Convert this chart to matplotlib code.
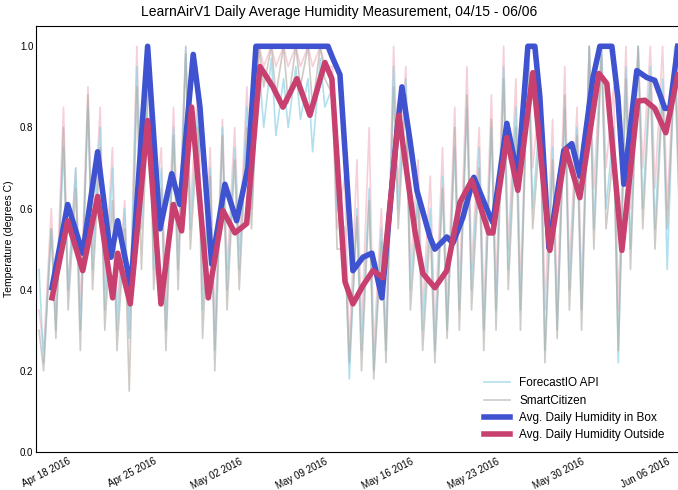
import numpy as np
import pandas as pd
import matplotlib
matplotlib.use("Agg")
import matplotlib.pyplot as plt
import matplotlib.dates as mdates

plt.rcParams["font.family"] = ["Liberation Sans", "DejaVu Sans"]

start = pd.Timestamp("2016-04-15")

# smoothed daily averages (day offset from Apr 15, humidity)
box_days = [1.31, 2.59, 3.82, 5.04, 6.13, 6.68, 7.77, 9.13, 10.14, 11.10, 11.77, 12.86,
            13.41, 14.37, 15.45, 16.41, 17.33, 17.99, 18.15, 23.88, 24.28, 24.86, 25.92,
            26.74, 27.47, 28.29, 29.52, 29.93, 30.58, 31.15, 32.22, 32.62, 33.28, 33.60,
            34.10, 34.91, 35.81, 37.04, 37.37, 38.51, 39.41, 40.23, 40.80, 41.21, 41.95,
            43.17, 43.82, 44.48, 45.54, 46.12, 47.10, 47.59, 48.08, 49.14, 49.96, 50.61,
            51.43, 51.84, 52.49]
box_hum = [0.405, 0.61, 0.49, 0.74, 0.48, 0.57, 0.405, 1.0, 0.55, 0.686, 0.61, 0.98,
           0.85, 0.463, 0.66, 0.57, 0.70, 1.0, 1.0, 1.0, 0.97, 0.93, 0.447,
           0.48, 0.49, 0.38, 0.79, 0.90, 0.77, 0.645, 0.53, 0.50, 0.52, 0.53,
           0.515, 0.578, 0.677, 0.587, 0.565, 0.81, 0.68, 1.0, 1.0, 0.875, 0.503,
           0.743, 0.76, 0.68, 0.92, 1.0, 1.0, 0.875, 0.66, 0.94, 0.923, 0.916,
           0.847, 0.847, 1.0]

out_days = [1.31, 2.59, 3.82, 5.04, 6.27, 6.68, 7.71, 9.13, 10.22, 11.23, 11.91, 12.73,
            14.09, 15.29, 16.27, 17.23, 18.32, 19.38, 20.20, 21.34, 22.40, 23.63, 24.20,
            25.27, 25.92, 26.74, 27.56, 28.37, 29.68, 30.99, 31.64, 32.62, 33.60, 34.67,
            35.65, 37.04, 37.37, 38.51, 39.41, 40.64, 42.03, 43.34, 44.48, 46.04, 46.69,
            47.92, 49.22, 49.80, 50.61, 51.51, 52.49]
out_hum = [0.38, 0.57, 0.447, 0.63, 0.38, 0.49, 0.365, 0.817, 0.365, 0.61, 0.545, 0.85,
           0.38, 0.595, 0.54, 0.563, 0.95, 0.90, 0.85, 0.92, 0.83, 0.96, 0.92,
           0.42, 0.365, 0.41, 0.447, 0.43, 0.83, 0.545, 0.44, 0.405, 0.447, 0.615,
           0.67, 0.54, 0.54, 0.775, 0.645, 0.935, 0.497, 0.747, 0.627, 0.933, 0.908,
           0.497, 0.865, 0.867, 0.847, 0.787, 0.93]

# raw readings: morning peak / afternoon low for each day from Apr 15
forecast_hi = [.45, .55, .75, .70, .85, .80, .70, .60, .95, 1.0, .70, .80, 1.0, .85, .70, .80,
               .75, .85, .95, .97, .92, .95, .92, .97, .90, .55, .60, .65, .55, .95, .92, .65,
               .60, .68, .75, .85, .75, .80, .95, .85, 1.0, .85, .75, .85, .80, 1.0, 1.0, .80,
               .95, 1.0, .95, .92, 1.0]
forecast_lo = [.22, .30, .40, .30, .45, .35, .30, .28, .55, .45, .30, .45, .55, .35, .25, .40,
               .45, .60, .80, .78, .80, .82, .74, .85, .60, .18, .25, .20, .25, .60, .40, .30,
               .25, .30, .35, .40, .30, .35, .45, .35, .60, .25, .30, .40, .35, .55, .60, .22,
               .50, .60, .55, .45, .60]
smart_hi = [.30, .55, .80, .65, .88, .75, .62, .55, .90, .95, .65, .78, .98, .80, .68, .78,
            .72, .80, 1.0, 1.0, 1.0, 1.0, 1.0, 1.0, .88, .50, .58, .62, .52, .90, .88, .62,
            .55, .65, .80, .88, .70, .82, .92, .80, 1.0, .80, .72, .88, .78, 1.0, .98, .75,
            .92, 1.0, .92, .88, .95]
smart_lo = [.20, .28, .35, .25, .40, .30, .25, .15, .45, .40, .25, .40, .50, .28, .20, .35,
            .40, .55, .90, .88, .86, .90, .85, .92, .50, .22, .20, .18, .22, .55, .35, .25,
            .22, .28, .30, .35, .25, .30, .40, .30, .55, .22, .28, .35, .30, .50, .55, .25,
            .45, .55, .50, .55, .58]
boxraw_hi = [.35, .60, .85, .70, .90, .85, .75, .62, 1.0, 1.0, .75, .85, 1.0, .90, .75, .82,
             .80, .90, 1.0, 1.0, 1.0, 1.0, 1.0, 1.0, .95, .68, .72, .80, .60, 1.0, .95, .72,
             .68, .75, .85, .95, .80, .88, 1.0, .92, 1.0, .90, .82, .95, .85, 1.0, 1.0, .90,
             1.0, 1.0, 1.0, 1.0, 1.0]
boxraw_lo = [.25, .35, .40, .35, .50, .40, .35, .30, .60, .55, .35, .50, .60, .40, .30, .45,
             .50, .60, .95, .95, .95, .95, .95, .95, .55, .25, .30, .25, .28, .65, .45, .35,
             .30, .35, .40, .45, .35, .40, .50, .40, .70, .35, .35, .45, .40, .65, .70, .35,
             .60, .70, .65, .60, .70]


def raw_series(hi, lo):
    t, v = [], []
    for k in range(len(hi)):
        t += [start + pd.Timedelta(hours=24 * k + 6), start + pd.Timedelta(hours=24 * k + 15)]
        v += [hi[k], lo[k]]
    return t, v


fig = plt.figure(figsize=(6.78, 4.90), dpi=100)
ax = fig.add_axes([36 / 678, 38 / 490, 648 / 678, 426 / 490])

t, v = raw_series(boxraw_hi, boxraw_lo)
ax.plot(t, v, color="#f0a8b8", lw=1.2, alpha=0.55)
t, v = raw_series(forecast_hi, forecast_lo)
ax.plot(t, v, color="#8fd3e6", lw=1.2, alpha=0.7, label="ForecastIO API")
t, v = raw_series(smart_hi, smart_lo)
ax.plot(t, v, color="#b0a8a0", lw=1.2, alpha=0.6, label="SmartCitizen")

ax.plot(start + pd.to_timedelta(box_days, unit="D"), box_hum, color="#3f52d0", lw=4,
        solid_joinstyle="round", label="Avg. Daily Humidity in Box")
ax.plot(start + pd.to_timedelta(out_days, unit="D"), out_hum, color="#c8406f", lw=4,
        solid_joinstyle="round", label="Avg. Daily Humidity Outside")

ax.set_xlim(start, start + pd.Timedelta(days=53))
ax.set_ylim(0, 1.05)
ax.set_yticks(np.arange(0, 1.01, 0.2))
ax.yaxis.set_major_formatter(matplotlib.ticker.FormatStrFormatter("%.1f"))
ax.xaxis.set_major_locator(mdates.WeekdayLocator(byweekday=mdates.MO))
ax.xaxis.set_major_formatter(mdates.DateFormatter("%b %d %Y"))
ax.tick_params(length=0, labelsize=7, pad=3)
ax.tick_params(axis="y", pad=2)
for lab in ax.get_xticklabels():
    lab.set_rotation(27)
    lab.set_ha("right")
ax.set_ylabel("Temperature (degrees C)", fontsize=7.5, labelpad=4)
ax.set_title("LearnAirV1 Daily Average Humidity Measurement, 04/15 - 06/06", fontsize=10,
             x=(339 - 36) / 648, pad=7)
ax.legend(loc="lower left", bbox_to_anchor=(437 / 648, 0.0), frameon=False, fontsize=8.5,
          handlelength=2.2, labelspacing=0.45)

fig.savefig("out.png", dpi=100)
